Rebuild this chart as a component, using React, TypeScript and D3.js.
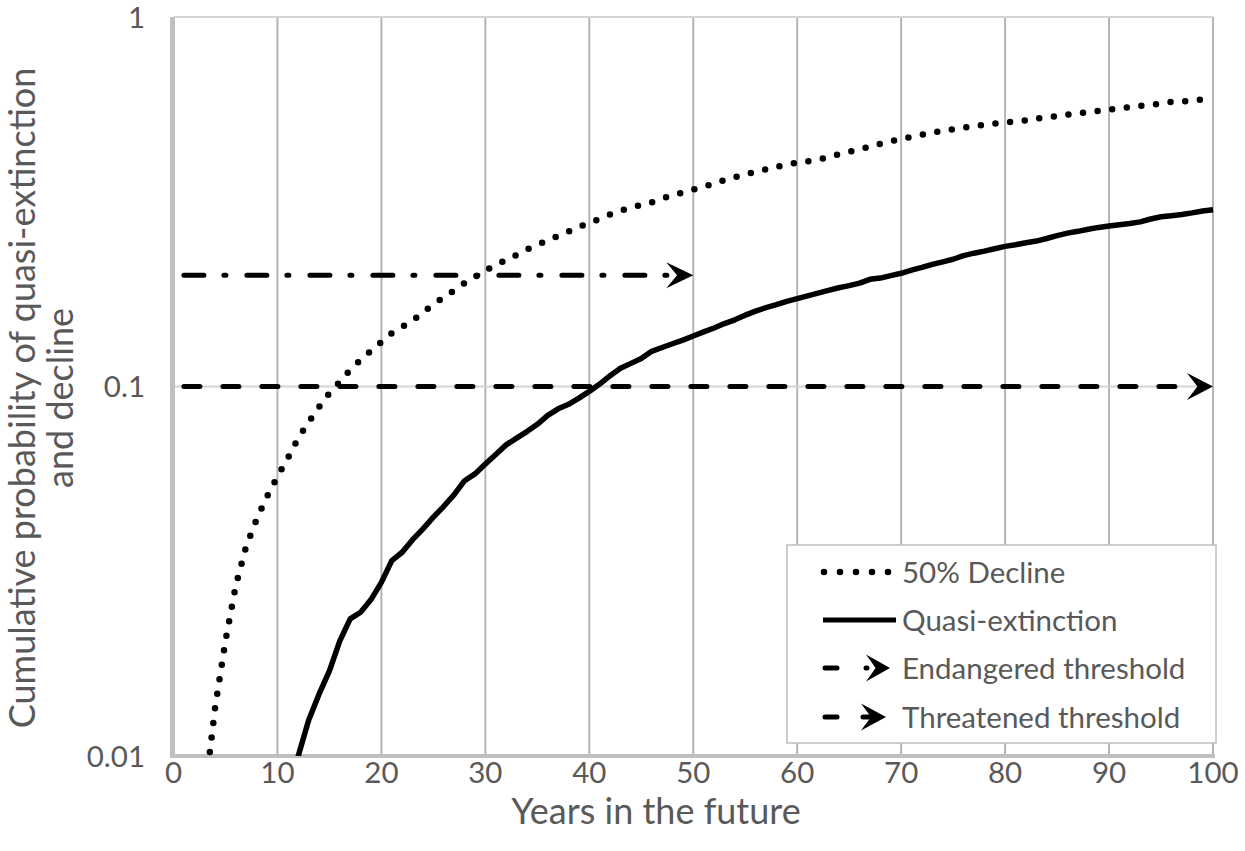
import React from "react";
import * as d3 from "d3";

// ---------- data ----------
const xTicks = [0, 10, 20, 30, 40, 50, 60, 70, 80, 90, 100];
const yTicks = [0.01, 0.1, 1];
const yTickLabels = ["0.01", "0.1", "1"];

// 50% Decline, yearly values starting at year 3
const declineStartYear = 3;
const declineValues = [
  0.0078, 0.0135, 0.0205, 0.029, 0.037, 0.0437, 0.0504, 0.057, 0.064, 0.0725,
  0.08, 0.088, 0.096, 0.103, 0.111, 0.118, 0.125, 0.132, 0.1395, 0.145,
  0.1505, 0.159, 0.1665, 0.1745, 0.182, 0.1905, 0.198, 0.206, 0.213, 0.22,
  0.227, 0.235, 0.242, 0.248, 0.2555, 0.2625, 0.27, 0.2775, 0.284, 0.292,
  0.299, 0.3045, 0.31, 0.315, 0.3225, 0.329, 0.335, 0.341, 0.347, 0.354,
  0.362, 0.3685, 0.375, 0.381, 0.387, 0.393, 0.399, 0.403, 0.407, 0.411,
  0.418, 0.425, 0.432, 0.438, 0.446, 0.454, 0.461, 0.468, 0.474, 0.48,
  0.486, 0.492, 0.497, 0.502, 0.507, 0.511, 0.515, 0.5185, 0.522, 0.525,
  0.531, 0.535, 0.5395, 0.544, 0.548, 0.553, 0.557, 0.562, 0.566, 0.57,
  0.575, 0.578, 0.583, 0.589, 0.591, 0.594, 0.598, 0.601,
];

// Quasi-extinction, yearly values starting at year 11
const quasiStartYear = 11;
const quasiValues = [
  0.008, 0.01, 0.0125, 0.0147, 0.017, 0.0205, 0.0235, 0.0245, 0.0265, 0.0295,
  0.0338, 0.0356, 0.0385, 0.0412, 0.0443, 0.0474, 0.051, 0.0556, 0.058, 0.0617,
  0.0655, 0.0695, 0.0725, 0.0755, 0.079, 0.0835, 0.087, 0.0895, 0.093, 0.097,
  0.1015, 0.107, 0.112, 0.1155, 0.119, 0.1245, 0.1275, 0.1305, 0.1335, 0.137,
  0.1405, 0.144, 0.148, 0.1515, 0.156, 0.16, 0.1635, 0.1665, 0.17, 0.173,
  0.176, 0.179, 0.182, 0.185, 0.1875, 0.1905, 0.195, 0.1965, 0.1995, 0.2025,
  0.2065, 0.21, 0.214, 0.2175, 0.221, 0.226, 0.2295, 0.2325, 0.236, 0.2395,
  0.242, 0.245, 0.2475, 0.2515, 0.256, 0.26, 0.263, 0.2665, 0.2695, 0.272,
  0.274, 0.276, 0.279, 0.284, 0.288, 0.29, 0.292, 0.295, 0.2985, 0.301,
];

// Thresholds
const thresholdNames = ["Endangered threshold", "Threatened threshold"];
const thresholdValues = [0.2, 0.1];
const thresholdStart = [1, 1];
const thresholdEnd = [50, 100];

const legendLabels = ["50% Decline", "Quasi-extinction", "Endangered threshold", "Threatened threshold"];

// ---------- styles ----------
const W = 1245;
const H = 851;
const plot = { left: 173.5, right: 1213, top: 17, bottom: 756 };
const textColor = "#595959";
const font = "Lato, 'Open Sans', sans-serif";
const tickSize = 29.5;
const titleSize = 36;
const dashDot = "20 20 2 21";
const dashed = "16 23";

function arrowPath(tx: number, ty: number, L: number, Hh: number) {
  return `M${tx},${ty} L${tx - L},${ty - Hh / 2} L${tx - 0.6 * L},${ty} L${tx - L},${ty + Hh / 2} Z`;
}

export default function App() {
  React.useEffect(() => {
    document.body.style.margin = "0";
  }, []);

  const x = d3.scaleLinear().domain([0, 100]).range([plot.left, plot.right]);
  const y = d3.scaleLog().domain([0.01, 1]).range([plot.bottom, plot.top]);

  const decline = declineValues.map((v, i) => [declineStartYear + i, v] as [number, number]);
  const quasi = quasiValues.map((v, i) => [quasiStartYear + i, v] as [number, number]);

  const line = d3
    .line<[number, number]>()
    .x((d) => x(d[0]))
    .y((d) => y(d[1]));

  const legX = 787;
  const legY = 545;
  const legW = 429;
  const legH = 198;
  const rowY = [572, 620, 668, 717];
  const sx0 = 823;
  const sx1 = 892;
  const textX = 902;

  return (
    <svg width={W} height={H} style={{ display: "block", background: "#fff" }} fontFamily={font}>
      <defs>
        <clipPath id="plotClip">
          <rect x={plot.left} y={plot.top - 5} width={plot.right - plot.left + 5} height={plot.bottom - plot.top + 5} />
        </clipPath>
      </defs>

      {/* vertical gridlines */}
      {xTicks.slice(1).map((t) => (
        <line key={"gx" + t} x1={x(t)} x2={x(t)} y1={plot.top} y2={plot.bottom} stroke="#b4b4b4" strokeWidth={2} />
      ))}
      {/* horizontal gridlines */}
      {yTicks.slice(1).map((t) => (
        <line key={"gy" + t} x1={plot.left} x2={plot.right} y1={y(t)} y2={y(t)} stroke="#d4d4d4" strokeWidth={2} />
      ))}
      {/* axes */}
      <line x1={plot.left - 1} x2={plot.left - 1} y1={plot.top} y2={plot.bottom + 2} stroke="#bfbfbf" strokeWidth={5} />
      <line x1={plot.left - 3} x2={plot.right + 2} y1={plot.bottom} y2={plot.bottom} stroke="#bfbfbf" strokeWidth={4} />

      {/* threshold lines */}
      {thresholdValues.map((v, i) => {
        const x0 = x(thresholdStart[i]);
        const x1 = x(thresholdEnd[i]);
        const yy = y(v);
        const L = i === 0 ? 27 : 26;
        const AH = i === 0 ? 26 : 27;
        return (
          <g key={thresholdNames[i]}>
            <line
              x1={x0}
              x2={x1 - L + 2}
              y1={yy}
              y2={yy}
              stroke="#000"
              strokeWidth={5}
              strokeLinecap="round"
              strokeDasharray={i === 0 ? dashDot : dashed}
            />
            <path d={arrowPath(x1, yy, L, AH)} fill="#000" />
          </g>
        );
      })}

      {/* data lines */}
      <g clipPath="url(#plotClip)">
        <path
          d={line(decline) || ""}
          fill="none"
          stroke="#000"
          strokeWidth={6.5}
          strokeLinecap="round"
          strokeDasharray="0 14.7"
        />
        <path d={line(quasi) || ""} fill="none" stroke="#000" strokeWidth={5.5} strokeLinejoin="round" />
      </g>

      {/* y tick labels */}
      {yTicks.map((t, i) => (
        <text key={"yl" + t} x={145} y={y(t)} dy="0.36em" textAnchor="end" fontSize={tickSize} fill={textColor}>
          {yTickLabels[i]}
        </text>
      ))}
      {/* x tick labels */}
      {xTicks.map((t) => (
        <text key={"xl" + t} x={x(t)} y={783} textAnchor="middle" fontSize={tickSize} fill={textColor}>
          {t}
        </text>
      ))}

      {/* axis titles */}
      <text x={656} y={824} textAnchor="middle" fontSize={titleSize} fill={textColor}>
        Years in the future
      </text>
      <g transform={`translate(35, 398) rotate(-90)`}>
        <text x={0} y={0} textAnchor="middle" fontSize={titleSize} fill={textColor}>
          Cumulative probability of quasi-extinction
        </text>
        <text x={0} y={38} textAnchor="middle" fontSize={titleSize} fill={textColor}>
          and decline
        </text>
      </g>

      {/* legend */}
      <rect x={legX} y={legY} width={legW} height={legH} fill="#fff" stroke="#bfbfbf" strokeWidth={1.5} />
      <line x1={sx0 + 1} x2={sx1 - 3} y1={rowY[0]} y2={rowY[0]} stroke="#000" strokeWidth={6.5} strokeLinecap="round" strokeDasharray="0 16" />
      <line x1={sx0} x2={sx1 + 4} y1={rowY[1]} y2={rowY[1]} stroke="#000" strokeWidth={5} />
      <line x1={sx0 + 2} x2={sx0 + 14} y1={rowY[2]} y2={rowY[2]} stroke="#000" strokeWidth={5} strokeLinecap="round" />
      <line x1={sx0 + 43} x2={sx0 + 44} y1={rowY[2]} y2={rowY[2]} stroke="#000" strokeWidth={5} strokeLinecap="round" />
      <path d={arrowPath(sx1 - 2, rowY[2], 24, 27)} fill="#000" />
      <line x1={sx0 + 2} x2={sx0 + 14} y1={rowY[3]} y2={rowY[3]} stroke="#000" strokeWidth={5} strokeLinecap="round" />
      <line x1={sx0 + 40} x2={sx0 + 46} y1={rowY[3]} y2={rowY[3]} stroke="#000" strokeWidth={5} strokeLinecap="round" />
      <path d={arrowPath(sx1 - 6, rowY[3], 25, 27)} fill="#000" />
      {legendLabels.map((l, i) => (
        <text key={l} x={textX} y={rowY[i]} dy="0.36em" fontSize={tickSize} fill={textColor}>
          {l}
        </text>
      ))}
    </svg>
  );
}
